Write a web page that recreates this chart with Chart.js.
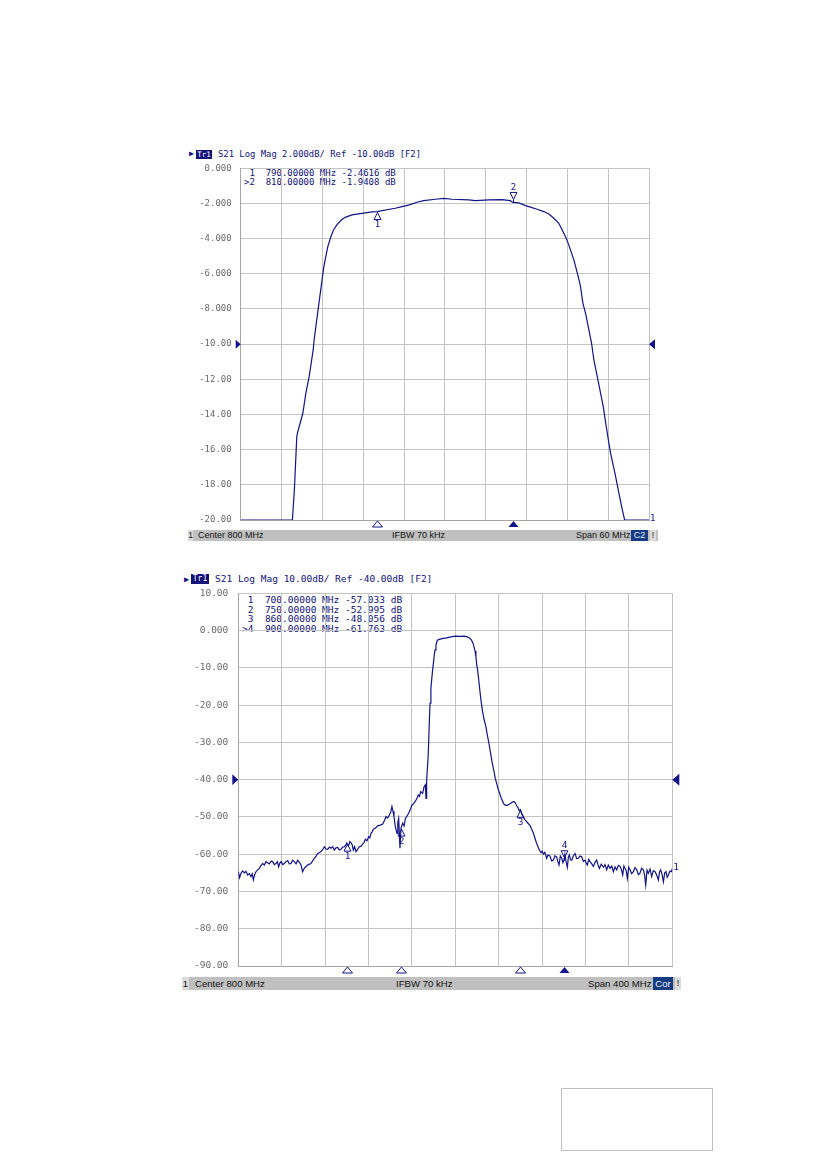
<!DOCTYPE html>
<html>
<head>
<meta charset="utf-8">
<script src="https://cdn.jsdelivr.net/npm/chart.js@4.4.0/dist/chart.umd.min.js"></script>
<style>
  body { margin: 0; background: #fff; }
  #page { position: relative; width: 826px; height: 1169px; overflow: hidden; background: #fff; }
  .abs { position: absolute; white-space: pre; }
  .mono { font-family: "DejaVu Sans Mono", monospace; color: #12127a; }
  .trbox { background: #12127a; color: #fff; text-align: center; font-family: "DejaVu Sans Mono", monospace; }
  .bar { background: #c0c0c0; }
  .bt { font-family: "Liberation Sans", Arial, sans-serif; color: #111; }
  .cell { background: #dcdcdc; text-align: center; }
  .navy { background: #173c82; color: #e8f0ff; text-align: center; }
  .wrap { position: absolute; }
  .box { position: absolute; border: 1px solid #c0c0c0; }
</style>
</head>
<body>
<div id="page">
  <!-- upper trace: narrow span -->
  <div class="abs mono" style="left:189px;top:149px;font-size:8px;line-height:9px">&#9654;</div>
  <div class="abs trbox" style="left:196px;top:149.5px;width:16px;height:9px;font-size:7.5px;line-height:9px">Tr1</div>
  <div class="abs mono" style="left:218px;top:148.5px;font-size:8.9px;line-height:11px">S21 Log Mag 2.000dB/ Ref -10.00dB [F2]</div>
  <div id="read1"></div>
  <div class="wrap" style="left:180px;top:158px;width:490px;height:380px"><canvas id="narrow"></canvas></div>
  <div class="abs bar" style="left:188px;top:530px;width:470px;height:11px"></div>
  <div class="abs bt cell" style="left:188px;top:530px;width:5px;height:11px;font-size:8.5px;line-height:11px">1</div>
  <div class="abs bt" style="left:198px;top:530px;font-size:9px;line-height:11px">Center 800 MHz</div>
  <div class="abs bt" style="left:392px;top:530px;font-size:9px;line-height:11px">IFBW 70 kHz</div>
  <div class="abs bt" style="left:576px;top:530px;font-size:9px;line-height:11px">Span 60 MHz</div>
  <div class="abs bt navy" style="left:631px;top:530px;width:17px;height:11px;font-size:9px;line-height:11px">C2</div>
  <div class="abs bt cell" style="left:650px;top:530px;width:6px;height:11px;font-size:8.5px;line-height:11px">!</div>

  <!-- lower trace: wide span -->
  <div class="abs mono" style="left:184px;top:573.5px;font-size:8.5px;line-height:10px">&#9654;</div>
  <div class="abs trbox" style="left:191px;top:574px;width:18px;height:10px;font-size:8px;line-height:10px">Tr1</div>
  <div class="abs mono" style="left:215px;top:573px;font-size:9.5px;line-height:12px">S21 Log Mag 10.00dB/ Ref -40.00dB [F2]</div>
  <div id="read2"></div>
  <div class="wrap" style="left:178px;top:584px;width:510px;height:410px"><canvas id="wide"></canvas></div>
  <div class="abs bar" style="left:182px;top:977px;width:499px;height:13px"></div>
  <div class="abs bt cell" style="left:182px;top:977px;width:7px;height:13px;font-size:9.5px;line-height:13px">1</div>
  <div class="abs bt" style="left:195px;top:977px;font-size:9.6px;line-height:13px">Center 800 MHz</div>
  <div class="abs bt" style="left:396px;top:977px;font-size:9.6px;line-height:13px">IFBW 70 kHz</div>
  <div class="abs bt" style="left:588px;top:977px;font-size:9.6px;line-height:13px">Span 400 MHz</div>
  <div class="abs bt navy" style="left:653px;top:977px;width:20px;height:13px;font-size:9.6px;line-height:13px">Cor</div>
  <div class="abs bt cell" style="left:675px;top:977px;width:6px;height:13px;font-size:9px;line-height:13px">!</div>

  <div class="box" style="left:561px;top:1088px;width:150px;height:61px"></div>
</div>

<script>
// ---- upper trace, span 60 MHz ----
const narrowFreq = [770, 777.6, 777.9, 778.24, 778.39, 779.13, 779.57, 780.06, 780.65, 780.79,
  781.43, 782.02, 782.22, 782.41, 782.8, 783.25, 783.64, 784.13, 784.77, 785.36,
  786.34, 787.81, 789.28, 790.0, 792.71, 793.7, 794.68, 795.9, 796.88, 798.6,
  799.83, 801.05, 803.51, 804.49, 806.45, 808.41, 809.6, 810.0, 810.87, 811.85,
  812.34, 813.56, 814.55, 815.28, 816.02, 816.75, 817.24, 817.73, 818.13, 818.96,
  819.6, 819.94, 820.29, 820.68, 821.07, 821.56, 821.9, 822.4, 822.89, 823.28,
  823.72, 824.11, 824.36, 825.0, 825.58, 826.08, 826.42, 830];
const narrowGain = [-20, -20, -18.2, -15.26, -14.98, -13.93, -12.8, -11.85, -10.33, -9.76,
  -7.87, -6.16, -5.59, -5.21, -4.45, -3.89, -3.51, -3.22, -2.94, -2.79,
  -2.65, -2.56, -2.48, -2.46, -2.27, -2.18, -2.09, -1.93, -1.84, -1.76,
  -1.71, -1.76, -1.8, -1.84, -1.8, -1.78, -1.84, -1.94, -1.97, -2.12,
  -2.18, -2.33, -2.46, -2.6, -2.84, -3.13, -3.51, -3.89, -4.27, -5.21,
  -6.16, -6.73, -7.68, -8.25, -9.0, -9.95, -10.9, -11.85, -12.8, -13.55,
  -14.69, -15.64, -16.21, -17.35, -18.48, -19.43, -20, -20];
const narrowTicks = ['0.000', '-2.000', '-4.000', '-6.000', '-8.000', '-10.00',
  '-12.00', '-14.00', '-16.00', '-18.00', '-20.00'];
const narrowMarkFreq = [790, 810];
const narrowMarkVal = [-2.4616, -1.9408];

// ---- lower trace, span 400 MHz ----
const wideFreq = [600.0, 601.2, 602.5, 604.0, 605.6, 607.0, 608.6, 610.2, 611.7, 612.8,
  613.9, 615.0, 616.3, 617.8, 619.4, 621.0, 622.5, 624.0, 625.5, 627.0,
  628.6, 630.2, 631.7, 633.2, 634.7, 636.0, 637.2, 638.3, 639.4, 641.0,
  642.4, 644.0, 645.5, 647.0, 648.6, 650.0, 651.6, 653.2, 654.7, 656.3,
  657.8, 659.3, 660.8, 662.4, 664.5, 667.0, 668.5, 670.1, 671.6, 673.1,
  674.6, 676.2, 677.8, 679.3, 680.9, 682.4, 684.0, 685.4, 687.0, 688.5,
  690.0, 691.6, 693.1, 694.6, 696.2, 697.7, 699.0, 700.0, 701.5, 702.8,
  703.9, 705.0, 706.0, 707.2, 708.5, 710.0, 711.5, 713.0, 714.6, 716.0,
  717.1, 718.6, 720.1, 721.2, 722.3, 723.4, 724.5, 726.5, 728.4, 730.8,
  733.1, 734.6, 736.1, 737.6, 739.2, 740.4, 741.6, 742.6, 743.5, 744.7,
  746.3, 747.0, 747.8, 748.5, 749.0, 750.0, 751.5, 752.8, 754.0, 755.0,
  756.1, 757.6, 758.8, 760.1, 761.5, 762.9, 764.4, 765.9, 767.0, 768.1,
  769.9, 771.2, 772.4, 773.0, 773.6, 774.5, 775.1, 776.0, 776.7, 777.5,
  778.2, 779.0, 779.8, 780.7, 781.3, 782.2, 782.8, 783.5, 785.9, 789.0,
  792.0, 796.0, 800.0, 804.0, 808.0, 811.1, 813.0, 814.8, 816.2, 817.2,
  818.2, 819.0, 819.7, 820.5, 821.5, 822.8, 823.8, 825.0, 826.5, 828.0,
  829.5, 831.0, 832.6, 834.0, 835.5, 836.8, 838.1, 839.5, 840.8, 842.2,
  843.7, 845.0, 846.5, 848.0, 849.5, 851.0, 852.5, 854.0, 855.2, 856.5,
  857.8, 859.0, 860.0, 861.2, 862.7, 864.3, 866.4, 868.9, 870.5, 872.0,
  873.3, 874.4, 876.0, 877.5, 879.0, 880.0, 881.2, 882.5, 884.2, 885.5,
  887.3, 888.8, 890.4, 891.8, 893.5, 894.5, 895.6, 896.8, 898.1, 899.2,
  900.0, 901.0, 902.1, 903.3, 904.2, 905.1, 906.2, 907.3, 908.8, 910.4,
  911.8, 913.4, 914.9, 916.5, 918.0, 919.6, 920.6, 921.7, 923.0, 924.2,
  925.8, 927.3, 928.8, 930.3, 931.5, 932.8, 934.5, 936.5, 938.0, 939.5,
  941.0, 942.6, 944.2, 945.7, 947.2, 948.8, 950.3, 951.8, 953.0, 954.3,
  955.4, 956.4, 957.5, 958.6, 959.8, 961.0, 962.5, 964.1, 965.6, 967.2,
  968.7, 970.2, 971.7, 973.3, 974.4, 975.5, 976.7, 977.9, 979.5, 981.0,
  982.5, 984.1, 985.6, 987.2, 988.2, 989.3, 990.6, 991.8, 993.0, 994.2,
  995.3, 996.4, 997.9, 999.4, 1000];
const wideGain = [-64.7, -66.3, -65.1, -64.5, -65.0, -64.6, -65.6, -65.2, -66.0, -65.3,
  -66.9, -65.5, -64.7, -64.2, -63.8, -63.0, -62.5, -62.9, -62.0, -62.3,
  -62.6, -61.9, -62.0, -62.8, -62.5, -62.0, -63.4, -62.4, -62.0, -62.8,
  -62.5, -62.0, -61.7, -62.6, -62.5, -61.6, -62.0, -62.6, -61.6, -62.2,
  -62.9, -64.7, -63.8, -63.3, -62.8, -62.5, -61.8, -61.1, -60.6, -59.8,
  -59.6, -59.3, -58.8, -58.0, -58.6, -58.7, -58.1, -58.4, -58.0, -58.9,
  -58.3, -58.2, -58.9, -58.7, -58.1, -58.0, -57.6, -57.0, -57.8, -56.6,
  -56.9, -57.5, -58.9, -58.0, -59.3, -58.7, -58.0, -57.9, -57.3, -56.8,
  -56.0, -56.4, -55.3, -55.6, -54.4, -54.0, -53.3, -53.0, -52.4, -52.2,
  -51.9, -51.0, -49.9, -50.3, -49.5, -48.8, -47.2, -48.5, -49.9, -52.6,
  -54.4, -51.5, -50.4, -55.0, -58.4, -53.0, -51.7, -52.4, -50.4, -50.0,
  -49.5, -48.6, -47.8, -46.8, -46.5, -45.9, -45.2, -44.1, -44.5, -43.2,
  -43.7, -41.9, -41.4, -45.0, -40.1, -36.0, -32.9, -25.0, -19.5, -15.5,
  -13.3, -10.8, -8.8, -6.5, -5.2, -3.9, -3.2, -2.6, -2.3, -2.1,
  -1.95, -1.7, -1.5, -1.55, -1.5, -1.7, -2.0, -2.5, -3.3, -4.3,
  -5.5, -7.0, -9.0, -10.5, -13.0, -16.5, -19.0, -21.5, -23.8, -25.5,
  -28.0, -30.3, -33.0, -35.5, -37.5, -39.6, -41.0, -42.5, -43.6, -44.8,
  -45.9, -46.6, -46.9, -46.9, -46.6, -46.4, -46.0, -45.9, -46.1, -47.0,
  -47.5, -48.4, -48.06, -49.2, -50.0, -50.8, -51.5, -52.3, -53.4, -54.4,
  -55.6, -56.6, -57.9, -58.9, -59.6, -59.2, -60.0, -59.5, -61.1, -60.2,
  -60.5, -61.8, -61.6, -60.4, -60.8, -62.0, -62.9, -60.5, -61.1, -62.3,
  -61.76, -60.0, -62.0, -63.5, -60.8, -60.2, -61.5, -61.6, -60.4, -59.8,
  -61.2, -61.1, -60.5, -60.7, -61.9, -61.6, -62.4, -62.9, -61.4, -62.0,
  -62.6, -63.3, -62.2, -61.6, -62.8, -63.8, -62.7, -63.5, -62.8, -64.2,
  -62.9, -63.8, -63.2, -64.7, -63.4, -64.2, -63.0, -63.3, -64.0, -65.6,
  -63.2, -63.8, -64.4, -66.5, -63.5, -64.2, -65.2, -64.7, -63.6, -64.1,
  -65.5, -65.1, -63.8, -64.2, -65.5, -68.3, -64.3, -65.1, -64.0, -66.0,
  -64.4, -64.7, -65.6, -66.9, -64.8, -64.2, -65.5, -67.4, -65.0, -64.7,
  -66.2, -65.6, -64.5, -64.7, -63.8];
const wideTicks = ['10.00', '0.000', '-10.00', '-20.00', '-30.00', '-40.00',
  '-50.00', '-60.00', '-70.00', '-80.00', '-90.00'];
const wideMarkFreq = [700, 750, 860, 900];
const wideMarkVal = [-57.033, -52.995, -48.056, -61.763];

const traceColor = '#12128a';
const gridColor = '#c4c4c4';
const frameColor = '#a4a4a4';

// marker readout rows, drawn as page text
function readout(id, freqs, vals, active, left, top, step, size) {
  const box = document.getElementById(id);
  freqs.forEach((f, i) => {
    const row = document.createElement('div');
    row.className = 'abs mono';
    row.style.cssText = `left:${left}px;top:${top + i * step}px;font-size:${size}px;line-height:${step}px`;
    row.textContent = (i === active ? '>' : ' ') + (i + 1) + '  ' + f.toFixed(5) +
      ' MHz ' + vals[i].toPrecision(5) + ' dB';
    box.appendChild(row);
  });
}
readout('read1', narrowMarkFreq, narrowMarkVal, 1, 244, 169, 9.3, 9);
readout('read2', wideMarkFreq, wideMarkVal, 3, 242, 595, 9.5, 9.5);

function tri(ctx, pts, fill) {
  ctx.beginPath();
  ctx.moveTo(pts[0][0], pts[0][1]);
  ctx.lineTo(pts[1][0], pts[1][1]);
  ctx.lineTo(pts[2][0], pts[2][1]);
  ctx.closePath();
  if (fill) ctx.fill(); else ctx.stroke();
}

// reference arrows, marker flags on the trace and under the grid
const vnaMarks = {
  id: 'vnaMarks',
  afterDraw(chart, args, o) {
    const { ctx, chartArea: a } = chart;
    const xs = chart.scales.x, ys = chart.scales.y;
    ctx.save();
    ctx.fillStyle = traceColor;
    ctx.strokeStyle = traceColor;
    ctx.lineWidth = 1;
    const ry = ys.getPixelForValue(o.ref);
    tri(ctx, [[a.left, ry], [a.left - o.arrow, ry - o.arrow * 0.9], [a.left - o.arrow, ry + o.arrow * 0.9]], true);
    tri(ctx, [[a.right, ry], [a.right + o.arrow + 1, ry - o.arrow], [a.right + o.arrow + 1, ry + o.arrow]], true);

    ctx.font = o.font + 'px "DejaVu Sans Mono", monospace';
    ctx.textAlign = 'center';
    ctx.textBaseline = 'middle';
    o.freqs.forEach((f, i) => {
      const px = Math.round(xs.getPixelForValue(f)) + 0.5;
      const py = ys.getPixelForValue(o.vals[i]);
      const on = i === o.active;
      // flag under the grid
      tri(ctx, [[px, a.bottom + 1], [px - 5, a.bottom + 7], [px + 5, a.bottom + 7]], on);
      // flag on the trace
      if (on) {
        tri(ctx, [[px, py - 3], [px - 3.5, py - 10], [px + 3.5, py - 10]], false);
        ctx.beginPath(); ctx.moveTo(px, py - 3); ctx.lineTo(px, py); ctx.stroke();
        ctx.fillText(String(i + 1), px, py - 15);
      } else {
        tri(ctx, [[px, py + 1], [px - 3.5, py + 8], [px + 3.5, py + 8]], false);
        ctx.fillText(String(i + 1), px, py + 13);
      }
    });
    const last = chart.data.datasets[0].data.slice(-1)[0];
    ctx.textAlign = 'left';
    ctx.fillText('1', a.right + 1, ys.getPixelForValue(last.y) - 1);
    ctx.restore();
  }
};

function makeChart(id, freqs, gains, xr, yr, ticks, pad, axisW, font, marks) {
  const points = freqs.map((f, i) => ({ x: f, y: gains[i] }));
  return new Chart(document.getElementById(id).getContext('2d'), {
    type: 'line',
    data: {
      datasets: [{
        data: points,
        borderColor: traceColor,
        borderWidth: 1.2,
        pointRadius: 0,
        tension: 0,
        fill: false
      }]
    },
    options: {
      animation: false,
      responsive: true,
      maintainAspectRatio: false,
      layout: { padding: pad },
      plugins: { legend: { display: false }, tooltip: { enabled: false }, vnaMarks: marks },
      scales: {
        x: {
          type: 'linear', min: xr[0], max: xr[1],
          ticks: { display: false, stepSize: xr[2] },
          grid: { color: gridColor, drawTicks: false },
          border: { color: frameColor },
          afterFit: (s) => { s.height = 0; s.paddingLeft = 0; s.paddingRight = 0; }
        },
        y: {
          min: yr[0], max: yr[1],
          ticks: {
            stepSize: yr[2], padding: axisW[1], color: '#6a6a6a',
            font: { family: '"DejaVu Sans Mono", monospace', size: font },
            callback: (v) => ticks[Math.round((yr[1] - v) / yr[2])]
          },
          grid: { color: gridColor, drawTicks: false },
          border: { color: frameColor },
          afterFit: (s) => { s.width = axisW[0]; s.paddingTop = 0; s.paddingBottom = 0; }
        }
      }
    },
    plugins: [vnaMarks]
  });
}

makeChart('narrow', narrowFreq, narrowGain, [770, 830, 6], [-20, 0, 2], narrowTicks,
  { top: 10.3, right: 21, bottom: 18, left: 0 }, [60.7, 9], 9,
  { ref: -10, arrow: 5, font: 9, freqs: narrowMarkFreq, vals: narrowMarkVal, active: 1 });

makeChart('wide', wideFreq, wideGain, [600, 1000, 40], [-90, 10, 10], wideTicks,
  { top: 9.3, right: 15.7, bottom: 28, left: 0 }, [60.3, 10], 9.5,
  { ref: -40, arrow: 6, font: 9.5, freqs: wideMarkFreq, vals: wideMarkVal, active: 3 });
</script>
</body>
</html>
